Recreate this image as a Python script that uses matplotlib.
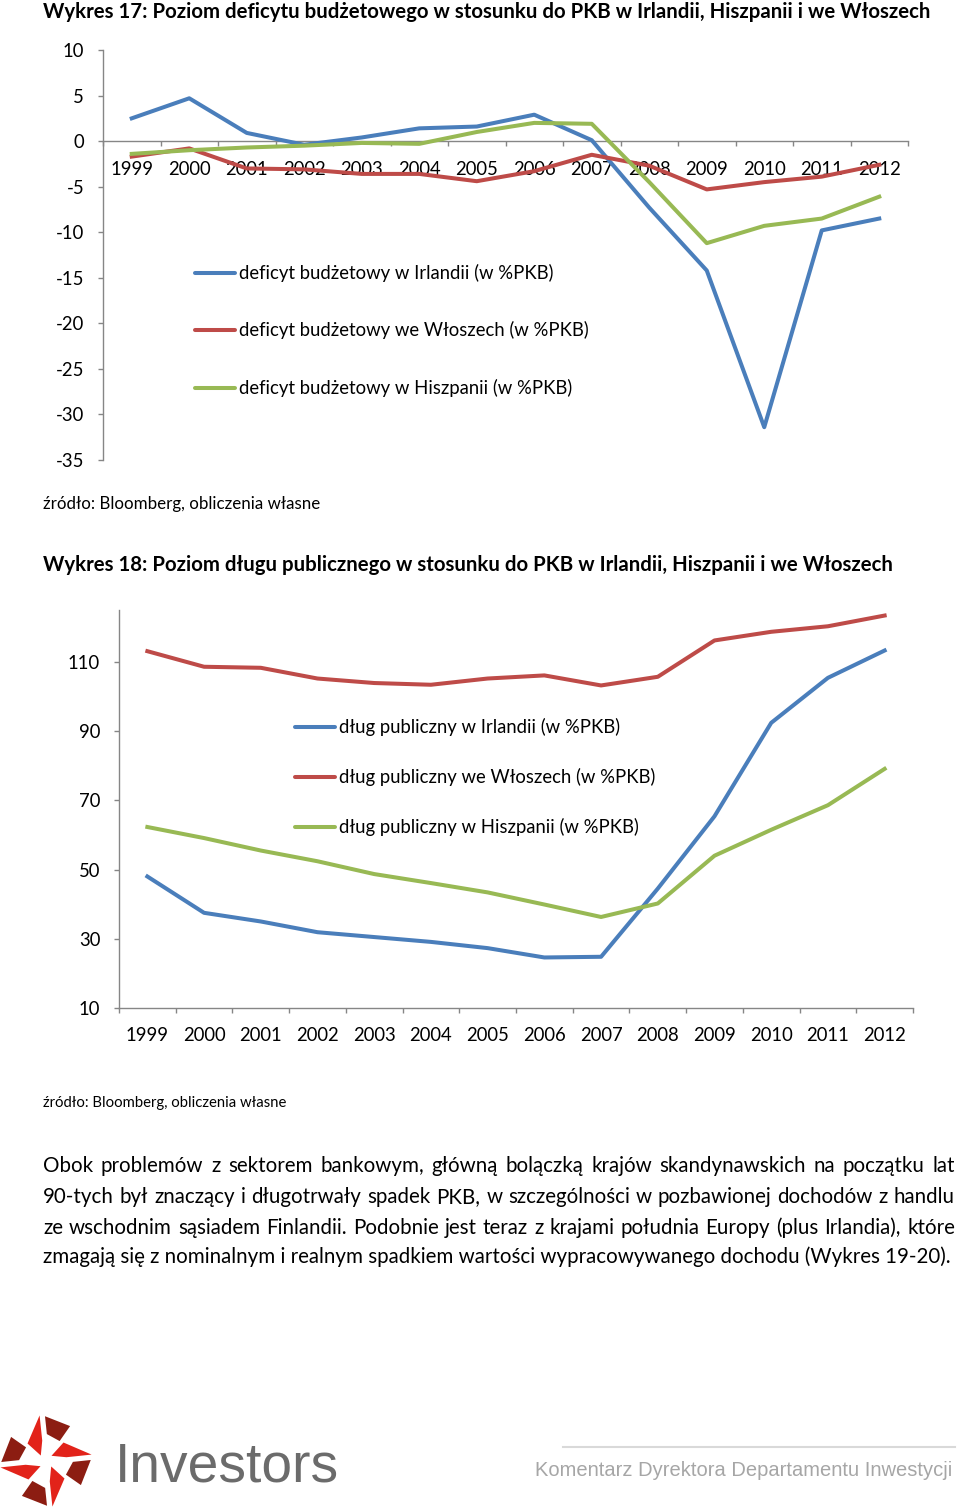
import numpy as np
import matplotlib.pyplot as plt
from matplotlib.lines import Line2D
from matplotlib.patches import Polygon

W, H = 960, 1509

# data
years = [str(y) for y in range(1999, 2013)]

deficit_ireland = [2.5, 4.7, 0.9, -0.4, 0.4, 1.4, 1.6, 2.9, 0.1, -7.3, -14.2, -31.4, -9.8, -8.5]
deficit_italy = [-1.7, -0.8, -3.0, -3.1, -3.6, -3.6, -4.4, -3.3, -1.5, -2.7, -5.3, -4.5, -3.9, -2.6]
deficit_spain = [-1.4, -1.0, -0.7, -0.5, -0.2, -0.3, 1.0, 2.0, 1.9, -4.5, -11.2, -9.3, -8.5, -6.1]

debt_ireland = [48.0, 37.5, 35.0, 31.9, 30.5, 29.1, 27.3, 24.6, 24.8, 44.5, 65.4, 92.4, 105.4, 113.3]
debt_italy = [113.1, 108.6, 108.3, 105.2, 103.9, 103.4, 105.2, 106.1, 103.2, 105.7, 116.2, 118.7, 120.3, 123.4]
debt_spain = [62.3, 59.1, 55.5, 52.4, 48.7, 46.1, 43.4, 39.9, 36.3, 40.2, 54.0, 61.5, 68.6, 79.1]

deficit_ticks = [10, 5, 0, -5, -10, -15, -20, -25, -30, -35]
debt_ticks = [10, 30, 50, 70, 90, 110]

deficit_labels = ["deficyt budżetowy w Irlandii (w %PKB)",
                  "deficyt budżetowy we Włoszech (w %PKB)",
                  "deficyt budżetowy w Hiszpanii (w %PKB)"]
debt_labels = ["dług publiczny w Irlandii (w %PKB)",
               "dług publiczny we Włoszech (w %PKB)",
               "dług publiczny w Hiszpanii (w %PKB)"]

title1 = "Wykres 17: Poziom deficytu budżetowego w stosunku do PKB w Irlandii, Hiszpanii i we Włoszech"
title2 = "Wykres 18: Poziom długu publicznego w stosunku do PKB w Irlandii, Hiszpanii i we Włoszech"
source = "źródło: Bloomberg, obliczenia własne"
paragraph = [
    "Obok problemów z sektorem bankowym, główną bolączką krajów skandynawskich na początku lat",
    "90-tych był znaczący i długotrwały spadek PKB, w szczególności w pozbawionej dochodów z handlu",
    "ze wschodnim sąsiadem Finlandii. Podobnie jest teraz z krajami południa Europy (plus Irlandia), które",
    "zmagają się z nominalnym i realnym spadkiem wartości wypracowywanego dochodu (Wykres 19-20).",
]

colors = ['#4A7EBB', '#BE4B48', '#98B954']
grey = '#868686'

plt.rcParams['font.family'] = ['Lato', 'DejaVu Sans']
plt.rcParams['axes.unicode_minus'] = False

fig = plt.figure(figsize=(W / 100, H / 100), dpi=100)
fig.patch.set_facecolor('white')
renderer = fig.canvas.get_renderer()


def fx(x):
    return x / W


def fy(y):
    return 1 - y / H


def put_text(x, y, s, width=None, size=13, **kw):
    t = fig.text(fx(x), fy(y), s, fontsize=size, **kw)
    if width:
        w = t.get_window_extent(renderer).width
        t.set_fontsize(size * width / w)
    return t


def add_ax(left, top, right, bottom):
    return fig.add_axes([fx(left), fy(bottom), (right - left) / W, (bottom - top) / H])


def style_axes(ax, ylim, yticks, size):
    ax.set_xlim(0, 14)
    ax.set_ylim(*ylim)
    ax.patch.set_alpha(0)
    for s in ['top', 'right']:
        ax.spines[s].set_visible(False)
    for s in ['left', 'bottom']:
        ax.spines[s].set_color(grey)
        ax.spines[s].set_linewidth(1)
    ax.set_yticks(yticks)
    ax.set_yticklabels([str(v) for v in yticks])
    ax.set_xticks(np.arange(15))
    ax.set_xticklabels([])
    ax.set_xticks(np.arange(14) + 0.5, minor=True)
    ax.set_xticklabels(years, minor=True)
    ax.tick_params(axis='x', which='major', direction='out', length=3.6, width=1, color=grey)
    ax.tick_params(axis='x', which='minor', length=0, pad=14, labelsize=size)
    ax.tick_params(axis='y', direction='out', length=3.6, width=1, color=grey, pad=10, labelsize=size)


def legend_rows(x0, x1, ys, labels, size):
    for y, lab, c in zip(ys, labels, colors):
        fig.add_artist(Line2D([fx(x0), fx(x1)], [fy(y), fy(y)], transform=fig.transFigure,
                              color=c, lw=2.9, solid_capstyle='round'))
        fig.text(fx(x1 + 4), fy(y), lab, fontsize=size, va='center')


# Titles and sources
put_text(43, 18, title1, width=885, weight='bold')
put_text(43, 509, source, width=275)
put_text(43, 571, title2, width=847, weight='bold')
put_text(43, 1107, source, width=243)

# size of legend text = size of tick labels
probe = put_text(239, 273, deficit_labels[0], width=313, va='center')
base = probe.get_fontsize()
probe.remove()

x = np.arange(14) + 0.5

# Chart 1: deficit
ax1 = add_ax(103, 50, 908, 460)
style_axes(ax1, (-35, 10), deficit_ticks, base)
ax1.spines['bottom'].set_position(('data', 0))
for vals, c in zip([deficit_ireland, deficit_italy, deficit_spain], colors):
    ax1.plot(x, vals, color=c, lw=2.9, zorder=3, solid_joinstyle='round')
legend_rows(195, 235, [273, 330, 388], deficit_labels, base)

# Chart 2: debt
ax2 = add_ax(119, 610, 913, 1008)
style_axes(ax2, (10, 125), debt_ticks, base)
for vals, c in zip([debt_ireland, debt_italy, debt_spain], colors):
    ax2.plot(x, vals, color=c, lw=2.9, zorder=3, solid_joinstyle='round')
legend_rows(295, 335, [727, 777, 827], debt_labels, base)

# Paragraph (justified)
last = put_text(43, 1263, paragraph[3], width=904)
psize = last.get_fontsize()
for i, line in enumerate(paragraph[:3]):
    y = 1172 + 31 * i
    words = line.split(' ')
    ts = [fig.text(0, fy(y), w, fontsize=psize) for w in words]
    widths = [t.get_window_extent(renderer).width for t in ts]
    gap = (955 - 43 - sum(widths)) / (len(words) - 1)
    xx = 43
    for t, w in zip(ts, widths):
        t.set_x(fx(xx))
        xx += w + gap


# Footer: logo (pinwheel star of bright and dark pieces)
def draw_logo(cx, cy, R, rot):
    bright = [(1.0, 0.035), (0.42, 0.36), (0.13, 0.10), (0.45, 0.035)]
    dark = [(0.97, -0.08), (0.70, -0.60), (0.40, -0.34), (0.58, -0.08)]
    for k in range(4):
        a = np.deg2rad(rot + 90 * k)
        ux, uy = np.cos(a), np.sin(a)
        vx, vy = -np.sin(a), np.cos(a)
        for shape, c in [(bright, '#E2231A'), (dark, '#8C1D12')]:
            pts = [(fx(cx + R * (u * ux + v * vx)), fy(cy - R * (u * uy + v * vy))) for u, v in shape]
            fig.add_artist(Polygon(pts, closed=True, transform=fig.transFigure,
                                   facecolor=c, edgecolor='none'))


draw_logo(46, 1461, 46, 96)
put_text(115, 1482, 'Investors', width=223, color='#6B6B6B',
         family=['Liberation Sans Narrow', 'Liberation Sans', 'DejaVu Sans'])

fig.add_artist(Line2D([fx(563), fx(955)], [fy(1447), fy(1447)], transform=fig.transFigure,
                      color='#D9D9D9', lw=1.5))
put_text(535, 1476, 'Komentarz Dyrektora Departamentu Inwestycji', width=415, color='#A6A6A6',
         family=['Liberation Sans Narrow', 'Liberation Sans', 'DejaVu Sans'])

fig.savefig('out.png', dpi=100, facecolor='white')
